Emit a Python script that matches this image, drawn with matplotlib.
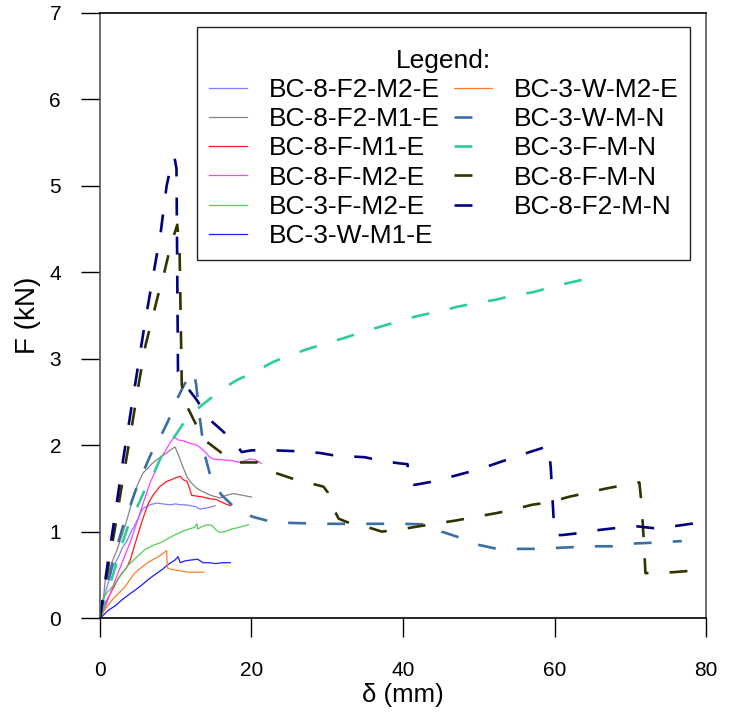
import matplotlib
matplotlib.use("Agg")
import matplotlib.pyplot as plt

plt.rcParams['font.family'] = ['Liberation Sans', 'DejaVu Sans']

# ---- data (delta in mm, F in kN) ----
x_8f2m2e = [0, 0.7, 1.7, 2.4, 3.0, 3.5, 4.0, 4.5, 4.9, 5.3, 5.7, 6.2, 6.6, 7.5, 8.3, 9.2, 10.0, 10.6, 11.3, 11.9, 12.6, 13.2, 13.8, 14.5, 15.2]
y_8f2m2e = [0, 0.29, 0.59, 0.70, 0.82, 0.88, 0.98, 1.06, 1.13, 1.20, 1.27, 1.29, 1.31, 1.33, 1.32, 1.31, 1.32, 1.31, 1.31, 1.30, 1.29, 1.26, 1.27, 1.28, 1.30]

x_8f2m1e = [0, 0.3, 0.7, 1.2, 1.7, 2.3, 3.0, 3.6, 4.4, 5.0, 5.7, 6.3, 6.9, 7.8, 8.8, 9.4, 9.9, 10.3, 10.8, 11.5, 12.1, 12.8, 13.6, 14.6, 15.8, 16.7, 17.6, 18.8, 20.0]
y_8f2m1e = [0, 0.09, 0.44, 0.55, 0.67, 0.80, 0.98, 1.15, 1.40, 1.55, 1.68, 1.73, 1.79, 1.85, 1.91, 1.95, 1.98, 1.90, 1.78, 1.63, 1.56, 1.50, 1.46, 1.42, 1.39, 1.42, 1.44, 1.42, 1.40]

x_8fm1e = [0, 0.4, 1.0, 1.6, 2.3, 2.9, 3.5, 4.0, 4.6, 5.3, 5.9, 6.4, 7.0, 7.9, 8.8, 9.4, 9.9, 10.6, 11.0, 11.5, 11.9, 12.1, 12.8, 13.6, 14.5, 15.4, 16.3, 17.2]
y_8fm1e = [0, 0.09, 0.22, 0.32, 0.44, 0.52, 0.58, 0.67, 0.85, 1.05, 1.21, 1.33, 1.42, 1.52, 1.58, 1.60, 1.62, 1.64, 1.60, 1.58, 1.48, 1.42, 1.41, 1.40, 1.38, 1.37, 1.33, 1.30]

x_8fm2e = [0, 0.4, 1.3, 2.2, 3.1, 4.0, 4.7, 5.3, 5.9, 6.6, 7.3, 7.9, 8.6, 9.2, 9.6, 9.9, 10.3, 11.0, 11.9, 12.8, 13.4, 13.9, 14.4, 14.9, 16.2, 17.5, 18.5, 19.8, 20.5, 21.3]
y_8fm2e = [0, 0.06, 0.27, 0.48, 0.68, 0.88, 1.06, 1.22, 1.38, 1.56, 1.70, 1.83, 1.93, 2.02, 2.07, 2.09, 2.06, 2.05, 2.02, 2.00, 1.96, 1.92, 1.87, 1.84, 1.83, 1.82, 1.80, 1.84, 1.83, 1.79]

x_3fm2e = [0, 0.3, 1.0, 2.0, 2.8, 3.7, 4.8, 5.9, 7.0, 8.2, 9.2, 10.3, 11.4, 12.5, 12.8, 12.9, 13.5, 14.3, 14.8, 15.3, 15.8, 16.5, 17.4, 18.4, 19.6]
y_3fm2e = [0, 0.21, 0.30, 0.40, 0.50, 0.61, 0.70, 0.79, 0.84, 0.88, 0.93, 0.98, 1.02, 1.05, 1.09, 1.03, 1.06, 1.08, 1.07, 1.02, 0.99, 1.00, 1.03, 1.05, 1.08]

x_3wm1e = [0, 0.3, 1.1, 2.0, 2.9, 3.8, 4.6, 5.5, 6.3, 7.2, 8.2, 9.0, 9.9, 10.3, 10.6, 11.2, 11.9, 12.9, 13.6, 14.4, 15.3, 16.2, 17.2]
y_3wm1e = [0, 0.02, 0.09, 0.14, 0.21, 0.27, 0.32, 0.38, 0.44, 0.50, 0.56, 0.62, 0.67, 0.71, 0.64, 0.66, 0.67, 0.68, 0.64, 0.64, 0.63, 0.64, 0.64]

x_3wm2e = [0, 0.5, 1.6, 2.5, 3.3, 4.0, 4.6, 5.4, 6.3, 7.1, 7.9, 8.8, 8.9, 9.5, 10.3, 11.0, 11.6, 12.6, 13.7]
y_3wm2e = [0, 0.08, 0.21, 0.29, 0.36, 0.45, 0.52, 0.58, 0.64, 0.68, 0.72, 0.78, 0.58, 0.56, 0.55, 0.54, 0.53, 0.53, 0.53]

x_3wmn = [0, 1, 2, 3, 4, 5, 6, 7, 8, 9, 10, 11, 12, 12.4, 12.7, 13.2, 13.8, 14.8, 16.1, 18.1, 20.2, 22.8, 25.3, 30, 40, 44.2, 45.1, 47.5, 49.8, 52.4, 55, 57.4, 60, 62.4, 65, 67.6, 70, 72.6, 76.8]
y_3wmn = [0, 0.4, 0.75, 1.05, 1.3, 1.55, 1.75, 1.95, 2.1, 2.28, 2.5, 2.68, 2.83, 2.85, 2.7, 2.3, 1.9, 1.57, 1.42, 1.25, 1.17, 1.11, 1.10, 1.09, 1.09, 1.08, 1.0, 0.93, 0.85, 0.80, 0.80, 0.80, 0.81, 0.82, 0.83, 0.83, 0.86, 0.87, 0.89]

x_3fmn = [0, 1, 2, 3, 4, 5, 6, 7, 8, 9, 10, 11, 12, 14, 16, 18, 20, 22.8, 25, 27.7, 30, 32.6, 35, 37.4, 40, 42.2, 45, 47.1, 50, 52.1, 55, 57.2, 60, 62, 64.5]
y_3fmn = [0, 0.3, 0.58, 0.88, 1.14, 1.3, 1.5, 1.65, 1.85, 2.0, 2.12, 2.25, 2.36, 2.5, 2.64, 2.75, 2.83, 2.96, 3.04, 3.12, 3.18, 3.25, 3.32, 3.38, 3.45, 3.5, 3.55, 3.6, 3.65, 3.68, 3.74, 3.77, 3.84, 3.88, 3.93]

x_8fmn = [0, 1, 2, 3, 4, 5, 6, 7, 8, 8.5, 9.3, 10.2, 10.5, 10.8, 11.0, 11.6, 12.9, 14.1, 16.2, 18, 20.8, 22.8, 25.5, 27.7, 29.5, 30.1, 30.8, 31.5, 32.6, 35, 37.2, 39.3, 42, 44.2, 47.1, 49.5, 52.1, 54.4, 57, 59.4, 61.8, 64.3, 66.9, 69.3, 71.2, 71.5, 71.8, 72, 73, 75.6, 80]
y_8fmn = [0, 0.55, 1.05, 1.6, 2.1, 2.65, 3.15, 3.5, 3.85, 4.0, 4.3, 4.55, 4.3, 2.7, 2.6, 2.43, 2.2, 2.04, 1.9, 1.8, 1.8, 1.69, 1.61, 1.56, 1.52, 1.45, 1.27, 1.15, 1.11, 1.06, 1.0, 1.02, 1.06, 1.09, 1.13, 1.17, 1.21, 1.25, 1.31, 1.34, 1.4, 1.45, 1.5, 1.54, 1.57, 1.31, 0.87, 0.52, 0.52, 0.53, 0.56]

x_8f2mn = [0, 1, 2, 3, 4, 5, 6, 7, 8, 8.8, 9.6, 9.9, 10.1, 10.3, 11.5, 12.8, 14.3, 16.1, 17.8, 18.7, 20, 23, 26, 29, 31, 33, 35, 37, 39.5, 40.6, 40.8, 41.5, 44, 47, 50, 53, 56, 58.5, 59.2, 59.5, 60.0, 61, 63, 66, 69, 71, 73, 75.6, 78, 80]
y_8f2mn = [0, 0.62, 1.2, 1.8, 2.35, 2.9, 3.45, 3.95, 4.45, 5.0, 5.33, 5.3, 5.2, 2.85, 2.67, 2.52, 2.31, 2.17, 2.03, 1.92, 1.94, 1.94, 1.93, 1.91, 1.88, 1.87, 1.86, 1.82, 1.79, 1.78, 1.55, 1.54, 1.58, 1.65, 1.72, 1.81, 1.90, 1.97, 1.99, 1.75, 0.96, 0.96, 0.98, 1.02, 1.05, 1.06, 1.04, 1.06, 1.09, 1.11]

labels = ['BC-8-F2-M2-E', 'BC-8-F2-M1-E', 'BC-8-F-M1-E', 'BC-8-F-M2-E', 'BC-3-F-M2-E',
          'BC-3-W-M1-E', 'BC-3-W-M2-E', 'BC-3-W-M-N', 'BC-3-F-M-N', 'BC-8-F-M-N', 'BC-8-F2-M-N']
series = [(x_8f2m2e, y_8f2m2e), (x_8f2m1e, y_8f2m1e), (x_8fm1e, y_8fm1e), (x_8fm2e, y_8fm2e),
          (x_3fm2e, y_3fm2e), (x_3wm1e, y_3wm1e), (x_3wm2e, y_3wm2e), (x_3wmn, y_3wmn),
          (x_3fmn, y_3fmn), (x_8fmn, y_8fmn), (x_8f2mn, y_8f2mn)]
colors = ['#7f7fff', '#858585', '#ff1a1a', '#ff40ff', '#55cc55', '#1c1cff', '#ff7f27',
          '#3a6ea5', '#2ecc98', '#333300', '#00007f']
dashed = [False] * 7 + [True] * 4

fig = plt.figure(figsize=(7.35, 7.13), dpi=100)
ax = fig.add_axes([0.136, 0.1332, 0.8246, 0.8486])

for (xs, ys), lab, col, d in zip(series, labels, colors, dashed):
    if d:
        ax.plot(xs, ys, color=col, lw=1.9, dashes=(6.8, 8.0), label=lab)
    else:
        ax.plot(xs, ys, color=col, lw=0.9, label=lab)

ax.set_xlim(0, 80)
ax.set_ylim(0, 7)
ax.set_xticks([0, 20, 40, 60, 80])
ax.set_yticks(range(8))
ax.tick_params(direction='out', length=14, width=1, labelsize=15)
ax.tick_params(axis='x', pad=17)
ax.tick_params(axis='y', pad=14)
for s in ax.spines.values():
    s.set_linewidth(1.2)
ax.spines['left'].set_color('#555555')
ax.spines['right'].set_color('#555555')

ax.set_xlabel('δ (mm)', fontsize=18.5, labelpad=2)
ax.set_ylabel('F (kN)', fontsize=20, labelpad=6)

leg = ax.legend(title='\nLegend:', ncol=2, loc='upper right', bbox_to_anchor=(0.9736, 0.977),
                borderaxespad=0, fontsize=19, title_fontsize=19, fancybox=False,
                edgecolor='#222222', framealpha=1, handlelength=1.45, handletextpad=0.8,
                columnspacing=0.55, labelspacing=0.2, borderpad=0.45)
leg.get_title().set_linespacing(0.25)
leg.get_frame().set_linewidth(1.0)

fig.savefig('out.png', dpi=100)
